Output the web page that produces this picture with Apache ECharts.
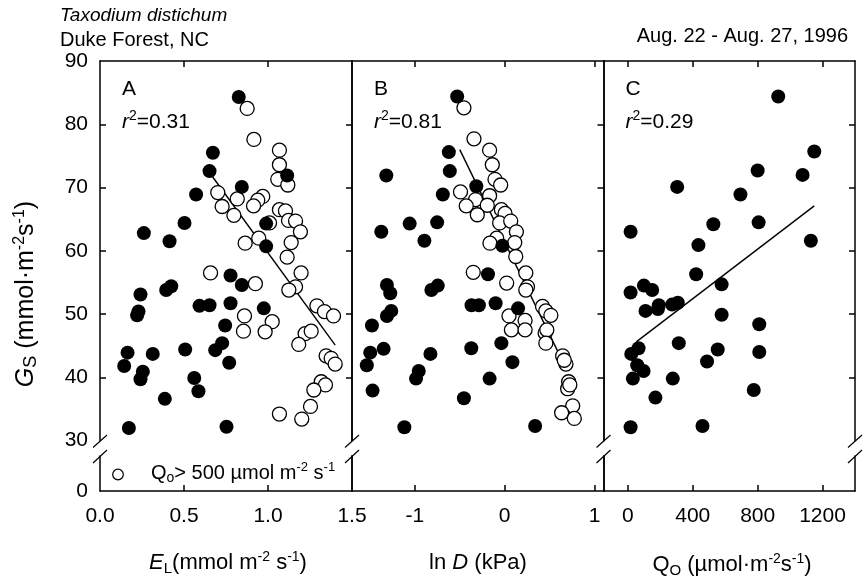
<!DOCTYPE html>
<html>
<head>
<meta charset="utf-8">
<script src="https://cdn.jsdelivr.net/npm/echarts@6/dist/echarts.min.js"></script>
<style>html,body{margin:0;padding:0;background:#fff}#c{width:866px;height:580px}</style>
</head>
<body>
<div id="c"></div>
<script>
// ---------- DATA ----------
// Panel A: E_L (mmol m-2 s-1) vs G_S
const aOpen = [[0.876,82.5],[0.916,77.6],[1.068,75.9],[1.068,73.6],[1.058,71.3],[1.118,70.4],[0.701,69.2],[0.817,68.2],[0.969,68.6],[0.939,68.0],[0.727,67.0],[0.914,67.1],[0.797,65.6],[1.068,66.5],[1.104,66.3],[1.009,64.4],[1.122,64.8],[1.164,64.7],[1.193,63.0],[0.945,62.0],[0.864,61.2],[1.138,61.3],[1.114,59.0],[0.658,56.5],[1.197,56.5],[0.925,54.8],[1.164,54.3],[1.124,53.8],[0.860,49.7],[1.025,48.8],[0.854,47.3],[0.983,47.2],[1.291,51.3],[1.336,50.4],[1.390,49.7],[1.221,46.9],[1.257,47.3],[1.183,45.2],[1.346,43.4],[1.376,43.0],[1.400,42.1],[1.317,39.3],[1.342,38.8],[1.273,38.0],[1.253,35.4],[1.068,34.2],[1.201,33.4]];
const aFilled = [[0.826,84.3],[0.672,75.5],[0.652,72.6],[1.114,71.9],[0.844,70.1],[0.572,68.9],[0.989,64.3],[0.503,64.4],[0.261,62.8],[0.414,61.5],[0.989,60.7],[0.777,56.1],[0.844,54.6],[0.424,54.4],[0.394,53.8],[0.241,53.1],[0.229,50.4],[0.221,49.8],[0.592,51.3],[0.652,51.4],[0.777,51.7],[0.975,50.9],[0.745,48.2],[0.164,43.9],[0.314,43.7],[0.507,44.4],[0.727,45.4],[0.686,44.3],[0.144,41.8],[0.255,40.9],[0.241,39.7],[0.769,42.3],[0.561,39.9],[0.586,37.8],[0.386,36.6],[0.172,32.0],[0.753,32.2]];
const aFit = [[0.67,71.7],[1.40,45.1]];

// Panel B: ln D (kPa) vs G_S
const bOpen = [[-0.454,82.6],[-0.342,77.7],[-0.168,75.9],[-0.138,73.6],[-0.108,71.3],[-0.045,70.4],[-0.492,69.3],[-0.324,68.1],[-0.168,68.7],[-0.194,67.2],[-0.428,67.1],[-0.305,65.7],[-0.037,66.5],[0.004,65.9],[-0.056,64.4],[0.067,64.7],[0.130,63.0],[-0.089,62.0],[-0.164,61.2],[0.112,61.3],[0.123,59.1],[-0.350,56.6],[0.235,56.5],[0.022,54.9],[0.254,54.3],[0.235,53.8],[0.048,49.7],[0.227,49.0],[0.075,47.5],[0.227,47.5],[0.421,51.2],[0.458,50.5],[0.514,49.8],[0.450,47.0],[0.469,47.5],[0.458,45.4],[0.645,43.4],[0.682,42.1],[0.663,42.7],[0.712,39.3],[0.701,38.2],[0.725,38.8],[0.757,35.5],[0.634,34.4],[0.775,33.5]];
const bFilled = [[-0.529,84.4],[-0.622,75.6],[-0.611,72.6],[-1.318,71.9],[-0.316,70.2],[-0.689,68.9],[-0.752,64.5],[-1.058,64.3],[-1.374,63.0],[-0.894,61.6],[-0.026,60.8],[-0.186,56.3],[-1.311,54.6],[-1.274,53.3],[-0.816,53.8],[-0.745,54.5],[-0.369,51.4],[-0.287,51.4],[-0.101,51.7],[0.149,50.9],[-1.263,50.5],[-1.311,49.7],[-1.478,48.2],[-1.348,44.5],[-1.497,43.9],[-0.827,43.7],[-0.372,44.6],[-0.037,45.4],[-1.535,41.9],[0.086,42.4],[-0.957,41.0],[-0.987,39.8],[-0.168,39.8],[-1.471,37.9],[-0.454,36.7],[-1.117,32.1],[0.339,32.3]];
const bFit = [[-0.50,76.0],[0.68,41.5]];

// Panel C: Q_O (umol m-2 s-1) vs G_S
const cFilled = [[927,84.4],[1149,75.7],[800,72.7],[1077,72.0],[304,70.1],[694,68.9],[527,64.2],[806,64.5],[17,63.0],[435,60.9],[1128,61.6],[421,56.3],[578,54.7],[99,54.5],[150,53.8],[17,53.4],[191,51.4],[273,51.5],[308,51.8],[109,50.5],[185,50.8],[578,49.9],[810,48.4],[314,45.4],[554,44.4],[810,44.0],[66,44.6],[21,43.7],[488,42.5],[58,41.9],[97,41.0],[31,39.8],[277,39.8],[776,38.0],[170,36.8],[17,32.1],[460,32.3]];
const cFit = [[52,45.6],[1149,67.1]];

// Axes / ticks
const xMin = [0, -1.7, -150];
const xMax = [1.5, 1.1, 1400];
const xTickVals = [[0.5, 1.0], [-1, 0, 1], [0, 400, 800, 1200]];
const xLabelVals = [[0, 0.5, 1.0, 1.5], [-1, 0, 1], [0, 400, 800, 1200]];
const yTickVals = [40, 50, 60, 70, 80];
const rSquared = ['0.31', '0.81', '0.29'];
const panelLetters = ['A', 'B', 'C'];

// ---------- LAYOUT ----------
const FONT = "'Liberation Sans', Arial, Helvetica, sans-serif";
const L = [100, 352, 603.5], R = [352, 603.5, 855];
const TOP = 61, UPPER_BOTTOM = 440.6, LOWER_TOP = 456, BOTTOM = 491;
const AX = {color: '#000', width: 1.5};

const grids = [], xAxes = [], yAxes = [], series = [];
for (let p = 0; p < 3; p++) {
  grids.push({left: L[p], top: TOP, width: R[p] - L[p], height: UPPER_BOTTOM - TOP, outerBoundsMode: 'none'});
  grids.push({left: L[p], top: LOWER_TOP, width: R[p] - L[p], height: BOTTOM - LOWER_TOP, outerBoundsMode: 'none'});
  const base = {type: 'value', min: xMin[p], max: xMax[p], splitLine: {show: false}, axisLine: {show: true, onZero: false, lineStyle: AX}};
  xAxes.push(Object.assign({}, base, {gridIndex: 2 * p, position: 'top',
    axisTick: {show: true, inside: true, length: 6, customValues: xTickVals[p], lineStyle: AX},
    axisLabel: {show: false}}));
  xAxes.push(Object.assign({}, base, {gridIndex: 2 * p + 1, position: 'bottom',
    axisTick: {show: true, inside: true, length: 6, customValues: xTickVals[p], lineStyle: AX},
    axisLabel: {show: true, customValues: xLabelVals[p], fontSize: 21, fontFamily: FONT, color: '#000', margin: 15,
      formatter: p === 0 ? (v => Number(v).toFixed(1)) : (v => String(v))}}));
  const yb = {type: 'value', splitLine: {show: false}, axisLine: {show: true, onZero: false, lineStyle: AX}};
  yAxes.push(Object.assign({}, yb, {gridIndex: 2 * p, position: 'left', min: 30, max: 90, interval: 10,
    axisTick: {show: p === 0, inside: true, length: 6, customValues: yTickVals, lineStyle: AX},
    axisLabel: {show: p === 0, fontSize: 21, fontFamily: FONT, color: '#000', margin: 12}}));
  yAxes.push(Object.assign({}, yb, {gridIndex: 2 * p, position: 'right', min: 30, max: 90, interval: 10,
    axisTick: {show: true, inside: true, length: 6, customValues: yTickVals, lineStyle: AX},
    axisLabel: {show: false}}));
  yAxes.push(Object.assign({}, yb, {gridIndex: 2 * p + 1, position: 'left', min: 0, max: 1,
    axisTick: {show: false},
    axisLabel: {show: p === 0, customValues: [0], fontSize: 21, fontFamily: FONT, color: '#000', margin: 12}}));
  yAxes.push(Object.assign({}, yb, {gridIndex: 2 * p + 1, position: 'right', min: 0, max: 1,
    axisTick: {show: false}, axisLabel: {show: false}}));
}

const openData = [aOpen, bOpen, null];
const filledData = [aFilled, bFilled, cFilled];
const fitData = [aFit, bFit, cFit];
for (let p = 0; p < 3; p++) {
  series.push({type: 'line', xAxisIndex: 2 * p, yAxisIndex: 4 * p, data: fitData[p], symbol: 'none', z: 1,
    lineStyle: {color: '#000', width: 1.4}, silent: true});
  if (openData[p]) {
    series.push({type: 'scatter', xAxisIndex: 2 * p, yAxisIndex: 4 * p, data: openData[p], symbol: 'circle', symbolSize: 14, z: 2,
      itemStyle: {color: '#fff', borderColor: '#000', borderWidth: 1.3, opacity: 1}, silent: true});
  }
  series.push({type: 'scatter', xAxisIndex: 2 * p, yAxisIndex: 4 * p, data: filledData[p], symbol: 'circle', symbolSize: 14, z: 3,
    itemStyle: {color: '#000', opacity: 1}, silent: true});
}

// ---------- TEXT / DECORATION ----------
function rich(size) {
  return {
    n: {fontSize: size, fontFamily: FONT, fill: '#000', lineHeight: size + 4},
    i: {fontSize: size, fontFamily: FONT, fontStyle: 'italic', fill: '#000', lineHeight: size + 4},
    sup: {fontSize: Math.round(size * 0.65), fontFamily: FONT, fill: '#000', verticalAlign: 'top'},
    sub: {fontSize: Math.round(size * 0.7), fontFamily: FONT, fill: '#000', verticalAlign: 'bottom'}
  };
}
function rtext(x, y, text, size, align, extra) {
  return Object.assign({type: 'text', x: x, y: y, silent: true,
    style: {text: text, rich: rich(size), fill: '#000', fontSize: size, fontFamily: FONT, align: align || 'left', verticalAlign: 'middle'}}, extra || {});
}
const g = [];
g.push(rtext(60, 16, '{i|Taxodium distichum}', 19));
g.push(rtext(60, 40, '{n|Duke Forest, NC}', 20));
g.push(rtext(848, 36, '{n|Aug. 22 - Aug. 27, 1996}', 20, 'right'));
for (let p = 0; p < 3; p++) {
  g.push(rtext(L[p] + 22, 89, '{n|' + panelLetters[p] + '}', 21));
  g.push(rtext(L[p] + 22, 122, '{i|r}{sup|2}{n|=' + rSquared[p] + '}', 21));
}
g.push(rtext(228, 563, '{i|E}{sub|L}{n|(mmol m}{sup|-2}{n| s}{sup|-1}{n|)}', 22, 'center'));
g.push(rtext(478, 563, '{n|ln }{i|D}{n| (kPa)}', 22, 'center'));
g.push(rtext(732, 565, '{n|Q}{sub|O}{n| (µmol·m}{sup|-2}{n|s}{sup|-1}{n|)}', 22, 'center'));
g.push(rtext(26, 294, '{i|G}{sub|S}{n| (mmol·m}{sup|-2}{n|s}{sup|-1}{n|)}', 25, 'center', {rotation: Math.PI / 2}));
// legend
g.push({type: 'circle', shape: {cx: 118, cy: 474.5, r: 5.3}, style: {fill: '#fff', stroke: '#000', lineWidth: 1.2}, silent: true});
g.push(rtext(151, 473, '{n|Q}{sub|o}{n|> 500 µmol m}{sup|-2}{n| s}{sup|-1}', 20));
// axis-break slashes
[100, 352, 603.5, 855].forEach(function (x) {
  g.push({type: 'line', shape: {x1: x - 7, y1: 447.5, x2: x + 7, y2: 435}, style: {stroke: '#000', lineWidth: 1.2}, silent: true});
  g.push({type: 'line', shape: {x1: x - 7, y1: 463, x2: x + 7, y2: 450}, style: {stroke: '#000', lineWidth: 1.2}, silent: true});
});

const chart = echarts.init(document.getElementById('c'), null, {renderer: 'canvas'});
chart.setOption({
  animation: false,
  backgroundColor: '#fff',
  textStyle: {fontFamily: FONT, color: '#000'},
  grid: grids,
  xAxis: xAxes,
  yAxis: yAxes,
  series: series,
  graphic: {elements: g}
});
</script>
</body>
</html>
